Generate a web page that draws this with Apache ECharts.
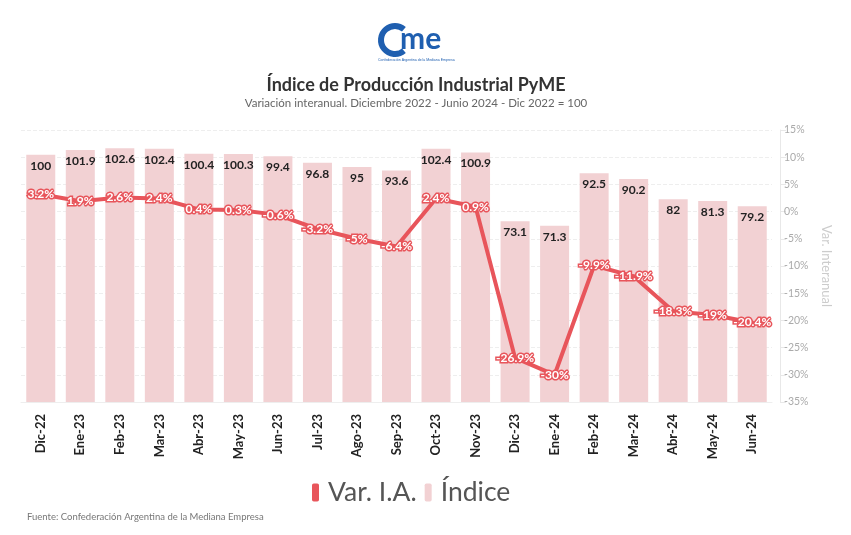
<!DOCTYPE html>
<html><head><meta charset="utf-8">
<script src="https://cdn.jsdelivr.net/npm/echarts@6/dist/echarts.min.js"></script>
<style>html,body{margin:0;padding:0;background:#fff}#c{width:851px;height:535px}</style>
</head><body><div id="c"></div>
<script>
const categories = ['Dic-22','Ene-23','Feb-23','Mar-23','Abr-23','May-23','Jun-23','Jul-23','Ago-23','Sep-23','Oct-23','Nov-23','Dic-23','Ene-24','Feb-24','Mar-24','Abr-24','May-24','Jun-24'];
const indice = [100,101.9,102.6,102.4,100.4,100.3,99.4,96.8,95,93.6,102.4,100.9,73.1,71.3,92.5,90.2,82,81.3,79.2];
const varIA = [3.2,1.9,2.6,2.4,0.4,0.3,-0.6,-3.2,-5,-6.4,2.4,0.9,-26.9,-30,-9.9,-11.9,-18.3,-19,-20.4];

const RED = '#e8555b', PINK = '#f2d1d3';
const FONT = 'Lato, "Noto Sans", sans-serif';
const chart = echarts.init(document.getElementById('c'));
chart.setOption({
  animation: false,
  textStyle: {fontFamily: FONT},
  graphic: [
    {type: 'arc', shape: {cx: 395, cy: 40, r: 14, startAngle: Math.PI*0.28, endAngle: Math.PI*1.72, clockwise: true}, style: {stroke: '#1f5fb0', lineWidth: 6, fill: null}},
    {type: 'text', left: 400, top: 24, style: {text: 'me', font: 'bold 30px Lato, sans-serif', fill: '#1f5fb0'}},
    {type: 'text', left: 378, top: 58, style: {text: 'Confederación Argentina de la Mediana Empresa', font: '3.5px sans-serif', fill: '#1f5fb0'}},
    {type: 'text', x: 416, y: 85, style: {text: 'Índice de Producción Industrial PyME', font: 'bold 18px Lato, sans-serif', fill: '#333', textAlign: 'center', textVerticalAlign: 'middle'}},
    {type: 'text', x: 416, y: 103, style: {text: 'Variación interanual. Diciembre 2022 - Junio 2024 - Dic 2022 = 100', font: '11.5px Lato, sans-serif', fill: '#666', textAlign: 'center', textVerticalAlign: 'middle'}},
    {type: 'text', x: 27, y: 517, style: {text: 'Fuente: Confederación Argentina de la Mediana Empresa', font: '9.5px Lato, sans-serif', fill: '#777', textAlign: 'left', textVerticalAlign: 'middle'}}
  ],
  legend: {
    data: ['Var. I.A.', 'Índice'], left: 307, top: 474, itemWidth: 7, itemHeight: 18, itemGap: 8,
    icon: 'roundRect',
    textStyle: {fontSize: 26.5, color: '#555', fontFamily: FONT, padding: [0, 0, 0, 4]}
  },
  grid: {left: 21, right: 79, top: 130, bottom: 133},
  xAxis: {
    type: 'category', data: categories,
    axisLine: {show: true, lineStyle: {color: '#eee'}},
    axisTick: {show: false},
    axisLabel: {rotate: 90, fontWeight: 'bold', fontSize: 13, color: '#222', margin: 12}
  },
  yAxis: [
    {type: 'value', min: 0, max: 110, show: false, splitLine: {show: false}},
    {type: 'value', position: 'right', min: -35, max: 15, interval: 5, offset: 8,
     name: 'Var. Interanual', nameLocation: 'middle', nameGap: 38, nameRotate: -90,
     nameTextStyle: {color: '#ccc', fontSize: 13},
     axisLine: {show: true, lineStyle: {color: '#e8e8e8'}},
     axisTick: {show: true, length: 6, lineStyle: {color: '#e8e8e8'}},
     axisLabel: {formatter: '{value}%', color: '#aaa', fontSize: 10.5, margin: 4},
     splitLine: {show: true, lineStyle: {type: 'dashed', color: '#eee'}}}
  ],
  series: [
    {name: 'Índice', type: 'bar', yAxisIndex: 0, data: indice, barWidth: 29,
     itemStyle: {color: PINK},
     label: {show: true, position: 'insideTop', distance: 5, fontWeight: 'bold', fontSize: 12, color: '#222'}},
    {name: 'Var. I.A.', type: 'line', yAxisIndex: 1, data: varIA, z: 5,
     symbol: 'circle', symbolSize: 4, showSymbol: true,
     lineStyle: {color: RED, width: 4}, itemStyle: {color: RED},
     label: {show: true, position: 'inside', formatter: '{c}%', color: '#fff', fontWeight: 'bold', fontSize: 12,
             textBorderColor: RED, textBorderWidth: 3}}
  ]
});
</script></body></html>
